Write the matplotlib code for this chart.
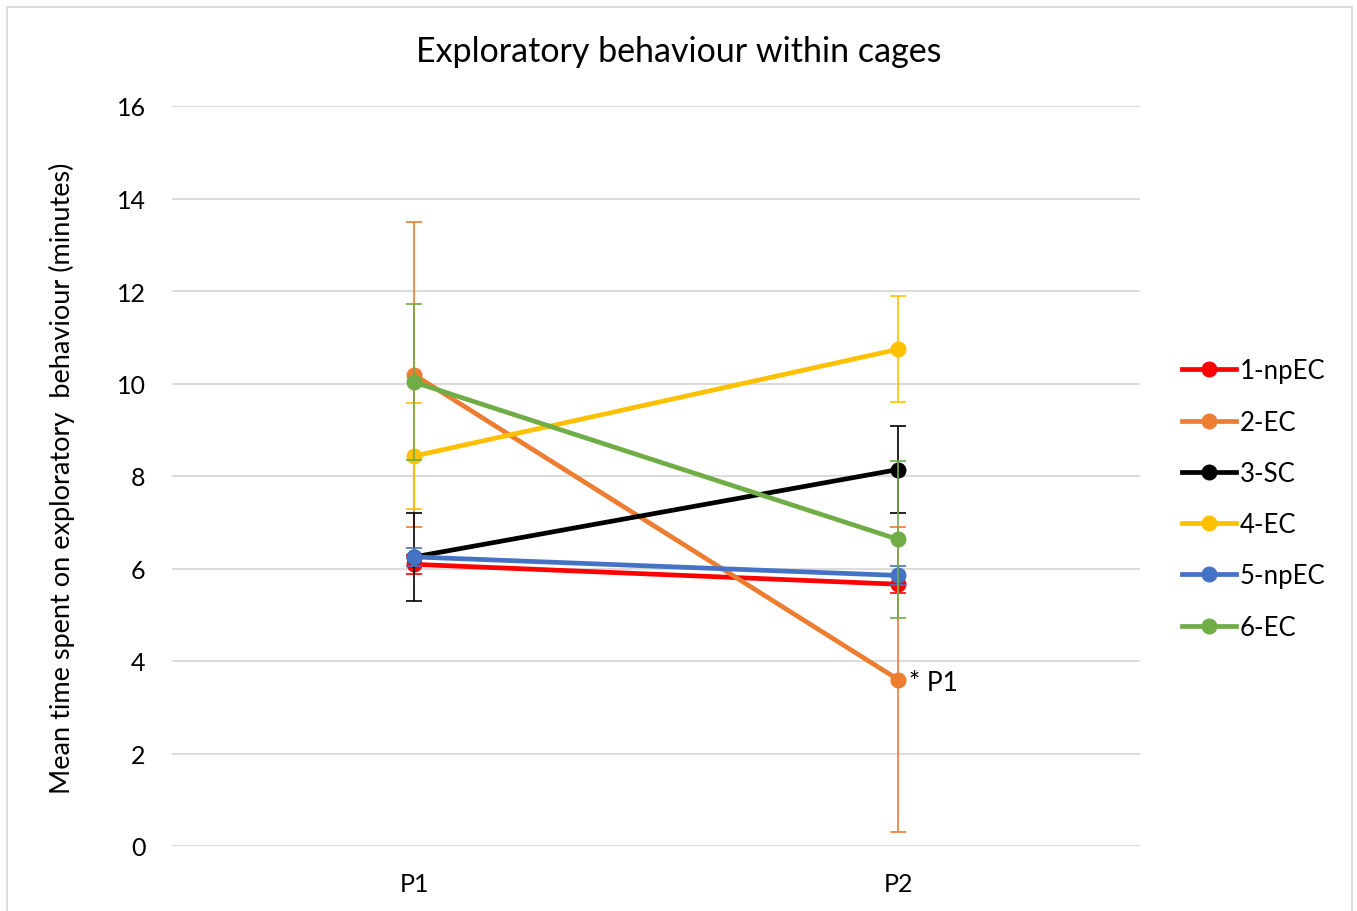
import matplotlib.pyplot as plt
from matplotlib.lines import Line2D
from matplotlib.patches import Rectangle

plt.rcParams['font.family'] = ['Lato', 'DejaVu Sans']

# data
periods = ["P1", "P2"]
groups = ["1-npEC", "2-EC", "3-SC", "4-EC", "5-npEC", "6-EC"]
colors = ["#FF0000", "#ED7D31", "#000000", "#FFC000", "#4472C4", "#70AD47"]
means = [
    [6.09, 5.66],
    [10.19, 3.60],
    [6.25, 8.14],
    [8.43, 10.74],
    [6.25, 5.85],
    [10.03, 6.63],
]
errors = [
    [0.20, 0.20],
    [3.30, 3.30],
    [0.95, 0.95],
    [1.15, 1.15],
    [0.20, 0.20],
    [1.69, 1.69],
]

fig = plt.figure(figsize=(13.57, 9.12), dpi=100)
ax = fig.add_axes([172 / 1357, 1 - 847 / 912, (1140 - 172) / 1357, (847 - 107) / 912])

x = list(range(len(periods)))
handles = []
for i, g in enumerate(groups):
    ax.errorbar(x, means[i], yerr=errors[i], color=colors[i], lw=3.4, marker='o',
                markersize=10.5, elinewidth=1.2, capsize=6, capthick=1.2, zorder=3 + i)
    handles.append(Line2D([], [], color=colors[i], lw=3.4, marker='o', markersize=10.5, label=g))

ax.annotate("* P1", xy=(1, means[1][1]), xytext=(8, -2), textcoords='offset points',
            fontsize=19, va='center', ha='left')

ax.set_xlim(-0.5, 1.5)
ax.set_ylim(0, 16)
ax.set_yticks(range(0, 17, 2))
ax.set_xticks(x)
ax.set_xticklabels(periods)
ax.grid(axis='y', color='#D9D9D9', lw=1.3)
ax.set_axisbelow(True)
for s in ax.spines.values():
    s.set_visible(False)
ax.tick_params(length=0, labelsize=18, pad=19)
ax.tick_params(axis='x', pad=19)

fig.text(62 / 1357, 1 - 478 / 912, "Mean time spent on exploratory  behaviour (minutes)",
         fontsize=19.5, rotation=90, ha='center', va='center')
fig.text(679 / 1357, 1 - 52 / 912, "Exploratory behaviour within cages", fontsize=24.5,
         ha='center', va='center')

fig.legend(handles=handles, loc='center left', bbox_to_anchor=(1159 / 1357, 1 - 500 / 912),
           frameon=False, fontsize=18.5, handlelength=2.1, handletextpad=0.15, labelspacing=1.02)

fig.patches.append(Rectangle((7 / 1357, -0.01), (1352 - 7) / 1357, 1 - 8 / 912 + 0.01,
                             transform=fig.transFigure, fill=False, ec='#D9D9D9', lw=1.3))

fig.savefig("out.png", dpi=100)
